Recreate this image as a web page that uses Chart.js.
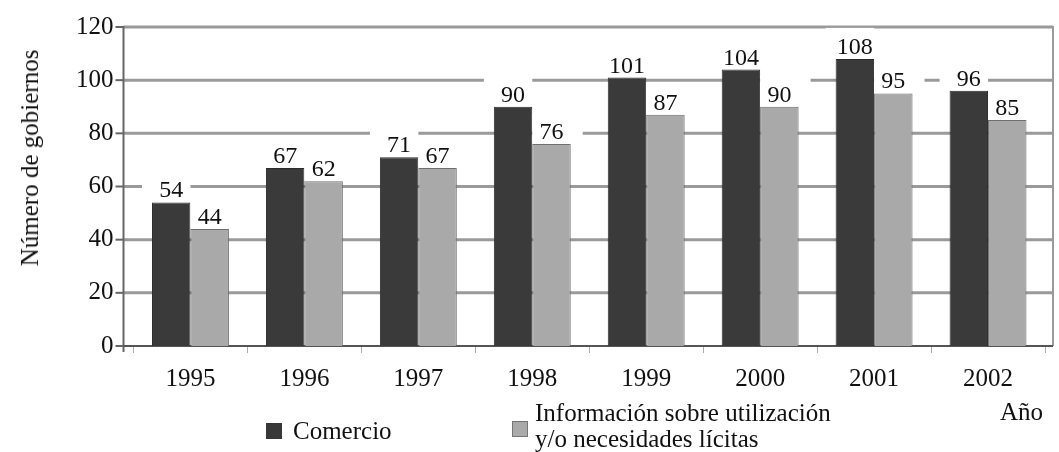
<!DOCTYPE html>
<html>
<head>
<meta charset="utf-8">
<script src="https://cdn.jsdelivr.net/npm/chart.js@4/dist/chart.umd.min.js"></script>
<style>
  html, body { margin: 0; padding: 0; background: #fff; }
  #wrap { position: relative; width: 1059px; height: 452px; }
  .txt { position: absolute; font-family: 'Liberation Serif', 'DejaVu Serif', serif; font-size: 25px; color: #111; line-height: 26px; white-space: nowrap; }
  .sw { position: absolute; width: 16px; height: 16px; box-sizing: border-box; }
  #ytitle { left: 30px; top: 158px; transform: translate(-50%, -50%) rotate(-90deg); }
</style>
</head>
<body>
<div id="wrap">
  <canvas id="chart" width="1059" height="452"></canvas>
  <div class="txt" id="ytitle">Número de gobiernos</div>
  <div class="txt" style="right:16px;top:399px">Año</div>
  <div class="sw" style="left:266px;top:423px;background:#383838"></div>
  <div class="txt" style="left:293px;top:418px">Comercio</div>
  <div class="sw" style="left:512px;top:421px;background:#aaa;border:1px solid #777"></div>
  <div class="txt" style="left:535px;top:400px">Información sobre utilización<br>y/o necesidades lícitas</div>
</div>
<script>
// ------------------------
// Data
// ------------------------
const years = ['1995', '1996', '1997', '1998', '1999', '2000', '2001', '2002']
const comercio = [54, 67, 71, 90, 101, 104, 108, 96]
const informacion = [44, 62, 67, 76, 87, 90, 95, 85]
const yTicks = [0, 20, 40, 60, 80, 100, 120]

const serif = "'Liberation Serif', 'DejaVu Serif', serif"
const font = { family: serif, size: 25 }

// ------------------------
// Helpers
// ------------------------
const line = (ctx, x1, y1, x2, y2) => {
  ctx.beginPath()
  ctx.moveTo(x1, y1)
  ctx.lineTo(x2, y2)
  ctx.stroke()
}

// grid, frame and axes, drawn a bit wider than the chart area like the original
const frame = {
  id: 'frame',
  beforeDatasetsDraw(chart) {
    const { ctx, chartArea: a, scales: { y } } = chart
    const left = a.left - 10
    const right = a.right + 8
    ctx.save()
    ctx.strokeStyle = '#9a9a9a'
    ctx.lineWidth = 3
    yTicks.forEach((v) => {
      if (v === 0) return
      const py = y.getPixelForValue(v)
      line(ctx, left, py, right, py)
    })
    ctx.lineWidth = 2
    line(ctx, right, a.top - 1, right, a.bottom)
    ctx.strokeStyle = '#666'
    line(ctx, left, a.top - 1, left, a.bottom + 6)
    yTicks.forEach((v) => {
      const py = y.getPixelForValue(v)
      line(ctx, left - 8, py, left, py)
    })
    ctx.strokeStyle = '#555'
    line(ctx, left, a.bottom, right, a.bottom)
    ctx.restore()
  },
}

// value labels on white boxes that hide the grid behind them
const valueLabels = {
  id: 'valueLabels',
  afterDatasetsDraw(chart) {
    const { ctx } = chart
    ctx.save()
    ctx.font = `24px ${serif}`
    ctx.textAlign = 'center'
    ctx.textBaseline = 'alphabetic'
    chart.data.datasets.forEach((ds, di) => {
      chart.getDatasetMeta(di).data.forEach((bar, i) => {
        const { x, y, width } = bar.getProps(['x', 'y', 'width'], true)
        const l = di === 0 ? x - width / 2 - 10 : x - width / 2
        const r = di === 0 ? x + width / 2 : x + width / 2 + 12
        ctx.fillStyle = '#fff'
        ctx.fillRect(l, y - 31, r - l, 30)
        ctx.fillStyle = '#111'
        ctx.fillText(String(ds.data[i]), x, y - 5)
      })
    })
    ctx.restore()
  },
}

new Chart(document.getElementById('chart'), {
  type: 'bar',

  data: {
    labels: years,
    datasets: [
      {
        label: 'Comercio',
        data: comercio,
        backgroundColor: '#3a3a3a',
        borderColor: '#2c2c2c',
        borderWidth: 1,
      },
      {
        label: 'Información sobre utilización y/o necesidades lícitas',
        data: informacion,
        backgroundColor: '#a9a9a9',
        borderColor: '#6e6e6e',
        borderWidth: 1,
      },
    ],
  },

  options: {
    responsive: false,
    animation: false,
    categoryPercentage: 0.675,
    barPercentage: 1,

    layout: {
      padding: { left: 64, right: 14, top: -4, bottom: 47 },
    },

    scales: {
      x: {
        offset: true,
        border: { display: false },
        grid: {
          offset: true,
          drawOnChartArea: false,
          drawTicks: true,
          tickLength: 7,
          color: '#aaa',
        },
        ticks: { font, color: '#111', padding: 11 },
      },
      y: {
        min: 0,
        max: 120,
        border: { display: false },
        grid: { display: false },
        ticks: { stepSize: 20, font, color: '#111', padding: 12 },
      },
    },

    plugins: {
      legend: { display: false },
      tooltip: { enabled: false },
    },
  },

  plugins: [frame, valueLabels],
})
</script>
</body>
</html>
